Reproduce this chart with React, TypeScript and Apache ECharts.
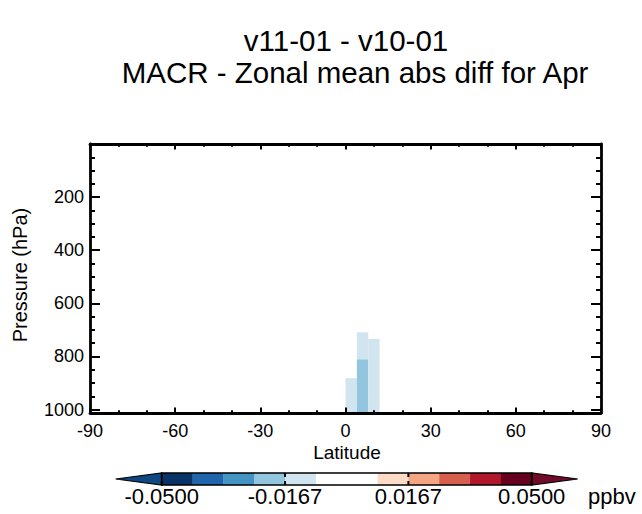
import React, { useEffect, useRef } from "react";
import * as echarts from "echarts";

// ---- data ----
const latTicks = [-90, -60, -30, 0, 30, 60, 90];
const pressureTicks = [200, 400, 600, 800, 1000];
const cellLatFrom = [0, 4, 4, 8];
const cellLatTo = [4, 8, 8, 12];
const cellPTop = [882, 709, 811, 734];
const cellPBottom = [1013, 811, 1013, 1013];
const cellValue = [-0.012, -0.012, -0.02, -0.012];
const levels = [-0.05, -0.0417, -0.0333, -0.025, -0.0167, -0.0083, 0, 0.0083, 0.0167, 0.025, 0.0333, 0.0417, 0.05];
const palette = ["#0a3468", "#2166ac", "#4393c3", "#92c5de", "#d1e5f0", "#ffffff", "#ffffff", "#fddbc7", "#f4a582", "#d6604d", "#b2182b", "#67001f"];
const underColor = "#0f4783";
const overColor = "#720a29";
const cbLabels = ["-0.0500", "-0.0167", "0.0167", "0.0500"];
const cbLabelIdx = [0, 4, 8, 12];

const FONT = "'Liberation Sans', Arial, Helvetica, sans-serif";

function colorFor(v: number): string {
  if (v < levels[0]) return underColor;
  if (v >= levels[levels.length - 1]) return overColor;
  for (let i = 0; i < palette.length; i++) {
    if (v >= levels[i] && v < levels[i + 1]) return palette[i];
  }
  return overColor;
}

export default function App() {
  const ref = useRef<HTMLDivElement>(null);
  useEffect(() => {
    if (!ref.current) return;
    const chart = echarts.init(ref.current, undefined, { renderer: "svg" });

    const gl = 90, gr = 601, gt = 144, gb = 413;
    const cells = cellLatFrom.map((v, i) => [v, cellLatTo[i], cellPTop[i], cellPBottom[i], cellValue[i]]);

    // colorbar geometry
    const cbL = 161.7, cbR = 531.7, cbT = 473, cbB = 485, tri = 46;
    const segW = (cbR - cbL) / palette.length;
    const cbMid = (cbT + cbB) / 2;
    const graphics: any[] = [];
    graphics.push({ type: "polygon", shape: { points: [[cbL - tri, cbMid], [cbL, cbT], [cbL, cbB]] }, style: { fill: underColor, stroke: "#000", lineWidth: 1.2 } });
    graphics.push({ type: "polygon", shape: { points: [[cbR + tri, cbMid], [cbR, cbT], [cbR, cbB]] }, style: { fill: overColor, stroke: "#000", lineWidth: 1.2 } });
    palette.forEach((c, i) => {
      graphics.push({ type: "rect", shape: { x: cbL + i * segW, y: cbT, width: segW + 0.3, height: cbB - cbT }, style: { fill: c } });
    });
    graphics.push({ type: "rect", shape: { x: cbL, y: cbT, width: cbR - cbL, height: cbB - cbT }, style: { fill: "none", stroke: "#000", lineWidth: 1.6 } });
    cbLabelIdx.forEach((li, k) => {
      const x = cbL + li * segW;
      graphics.push({ type: "line", shape: { x1: x, y1: cbT, x2: x, y2: cbT + 4 }, style: { stroke: "#000", lineWidth: 2 } });
      graphics.push({ type: "line", shape: { x1: x, y1: cbB - 4, x2: x, y2: cbB }, style: { stroke: "#000", lineWidth: 2 } });
      graphics.push({ type: "text", x, y: 496, style: { text: cbLabels[k], fill: "#000", font: `22px ${FONT}`, align: "center", verticalAlign: "middle" } });
    });
    graphics.push({ type: "text", x: 588, y: 496, style: { text: "ppbv", fill: "#000", font: `22px ${FONT}`, align: "left", verticalAlign: "middle" } });
    graphics.push({ type: "text", x: 346, y: 40, style: { text: "v11-01 - v10-01", fill: "#000", font: `29.5px ${FONT}`, align: "center", verticalAlign: "middle" } });
    graphics.push({ type: "text", x: 355, y: 72, style: { text: "MACR - Zonal mean abs diff for Apr", fill: "#000", font: `29.5px ${FONT}`, align: "center", verticalAlign: "middle" } });
    graphics.push({ type: "text", x: 347, y: 452, style: { text: "Latitude", fill: "#000", font: `19px ${FONT}`, align: "center", verticalAlign: "middle" } });
    graphics.push({ type: "text", x: 20, y: 275, rotation: Math.PI / 2, style: { text: "Pressure (hPa)", fill: "#000", font: `20px ${FONT}`, align: "center", verticalAlign: "middle" } });

    const axisLine = { show: true, onZero: false, lineStyle: { color: "#000", width: 2.8 } };
    const xCommon = {
      type: "value", min: latTicks[0], max: latTicks[latTicks.length - 1], interval: 30, z: 10,
      axisLine, splitLine: { show: false },
      axisTick: { show: true, inside: true, length: 5.4, lineStyle: { color: "#000", width: 2 } },
      minorTick: { show: true, splitNumber: 3, length: 2.7, lineStyle: { color: "#000", width: 2 } },
    };
    const yCommon = {
      type: "value", inverse: true, min: 0, max: 1013, interval: 200, z: 10,
      axisLine, splitLine: { show: false },
      axisTick: { show: true, inside: true, length: 10, lineStyle: { color: "#000", width: 2 } },
      minorTick: { show: true, splitNumber: 4, length: 5, lineStyle: { color: "#000", width: 2 } },
    };

    chart.setOption({
      animation: false,
      grid: { left: gl, right: 642 - gr, top: gt, bottom: 514 - gb, containLabel: false },
      xAxis: [
        { ...xCommon, position: "bottom", axisLabel: { show: true, color: "#000", fontSize: 18, fontFamily: FONT, margin: 9, formatter: (v: number) => (latTicks.includes(v) ? String(v) : "") } },
        { ...xCommon, position: "top", axisLabel: { show: false } },
      ],
      yAxis: [
        { ...yCommon, position: "left", axisLabel: { show: true, color: "#000", fontSize: 18, fontFamily: FONT, margin: 6, formatter: (v: number) => (pressureTicks.includes(v) ? String(v) : "") } },
        { ...yCommon, position: "right", axisLabel: { show: false } },
      ],
      series: [
        {
          type: "custom",
          coordinateSystem: "cartesian2d",
          xAxisIndex: 0,
          yAxisIndex: 0,
          clip: true,
          z: 1,
          encode: { x: [0, 1], y: [2, 3] },
          data: cells,
          renderItem: (params: any, api: any) => {
            const p1 = api.coord([api.value(0), api.value(2)]);
            const p2 = api.coord([api.value(1), api.value(3)]);
            return {
              type: "rect",
              shape: { x: p1[0], y: p1[1], width: p2[0] - p1[0], height: p2[1] - p1[1] },
              style: { fill: colorFor(api.value(4)), stroke: null },
            };
          },
        },
      ],
      graphic: graphics,
    });
    return () => chart.dispose();
  }, []);
  return <div ref={ref} style={{ position: "fixed", left: 0, top: 0, width: 642, height: 514, background: "#fff" }} />;
}
